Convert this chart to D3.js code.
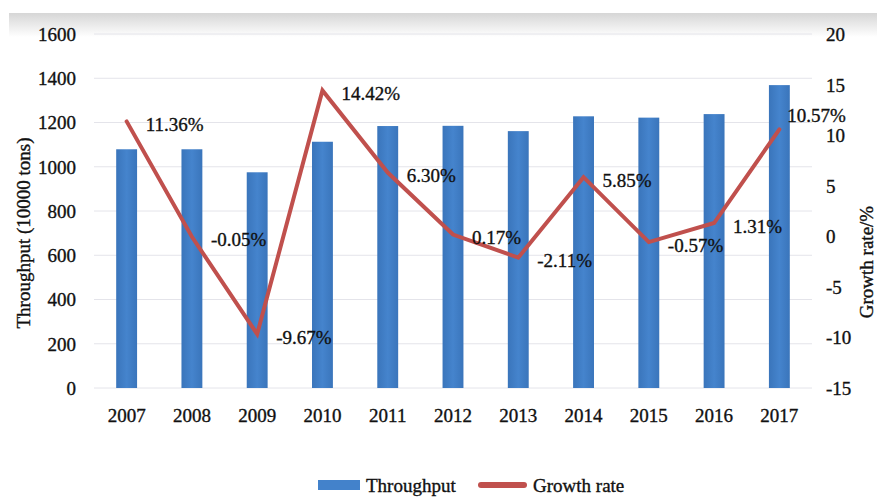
<!DOCTYPE html>
<html>
<head>
<meta charset="utf-8">
<script src="https://cdn.jsdelivr.net/npm/d3@7/dist/d3.min.js"></script>
<style>
  html, body { margin: 0; padding: 0; background: #ffffff; }
  svg { display: block; }
  text { font-family: "Liberation Serif", "DejaVu Serif", serif; fill: #111; stroke: #111; stroke-width: 0.35px; }
</style>
</head>
<body>
<svg id="chart" width="877" height="501"></svg>
<script>
const years = ["2007","2008","2009","2010","2011","2012","2013","2014","2015","2016","2017"];
const throughput = [1079, 1079, 975, 1113, 1184, 1185, 1161, 1228, 1222, 1238, 1369];
const growthRate = [11.36, -0.05, -9.67, 14.42, 6.30, 0.17, -2.11, 5.85, -0.57, 1.31, 10.57];
const growthLabels = ["11.36%","-0.05%","-9.67%","14.42%","6.30%","0.17%","-2.11%","5.85%","-0.57%","1.31%","10.57%"];
const leftTicks = [0, 200, 400, 600, 800, 1000, 1200, 1400, 1600];
const rightTicks = [-15, -10, -5, 0, 5, 10, 15, 20];
const seriesNames = ["Throughput", "Growth rate"];

const svg = d3.select("#chart");
const W = 877, H = 501;
const plot = { left: 94, right: 812, top: 34, bottom: 388 };
const FONT = "Liberation Serif, serif";

const defs = svg.append("defs");
const bg = defs.append("linearGradient").attr("id", "bgGrad").attr("x1", 0).attr("y1", 0).attr("x2", 0).attr("y2", 1);
bg.append("stop").attr("offset", "0%").attr("stop-color", "#d6d6d6");
bg.append("stop").attr("offset", "100%").attr("stop-color", "#ffffff");
svg.append("rect").attr("x", 0).attr("y", 0).attr("width", W).attr("height", H).attr("fill", "#ffffff");
svg.append("rect").attr("x", 9).attr("y", 13).attr("width", W - 9).attr("height", 24).attr("fill", "url(#bgGrad)");

const barGradH = defs.append("linearGradient").attr("id", "barGradH").attr("x1", 0).attr("y1", 0).attr("x2", 1).attr("y2", 0);
barGradH.append("stop").attr("offset", "0%").attr("stop-color", "#3a75bb");
barGradH.append("stop").attr("offset", "50%").attr("stop-color", "#4584cd");
barGradH.append("stop").attr("offset", "100%").attr("stop-color", "#3a75bb");

const x = d3.scaleBand().domain(years).range([plot.left, plot.right]).paddingInner(0.68).paddingOuter(0.34);
const yL = d3.scaleLinear().domain([0, 1600]).range([plot.bottom, plot.top]);
const yR = d3.scaleLinear().domain([-15, 20]).range([plot.bottom, plot.top]);

// gridlines
svg.append("g").selectAll("line").data(leftTicks).join("line")
  .attr("x1", plot.left).attr("x2", plot.right)
  .attr("y1", d => yL(d)).attr("y2", d => yL(d))
  .attr("stroke", "#e4e4ea").attr("stroke-width", 1);

// left axis
const axL = svg.append("g").attr("transform", `translate(${plot.left - 18},0)`)
  .call(d3.axisLeft(yL).tickValues(leftTicks).tickSize(0).tickPadding(0).tickFormat(d => String(d)));
axL.attr("font-family", FONT);
axL.select(".domain").remove();
axL.selectAll("text").attr("font-size", 19).attr("fill", "#111").attr("dy", "0.34em");

// right axis
const axR = svg.append("g").attr("transform", `translate(${plot.right + 14},0)`)
  .call(d3.axisRight(yR).tickValues(rightTicks).tickSize(0).tickPadding(0).tickFormat(d => String(d)));
axR.attr("font-family", FONT);
axR.select(".domain").remove();
axR.selectAll("text").attr("font-size", 19).attr("fill", "#111").attr("dy", "0.34em");

// bottom axis
const axB = svg.append("g").attr("transform", `translate(0,${plot.bottom + 20})`)
  .call(d3.axisBottom(x).tickSize(0).tickPadding(0));
axB.attr("font-family", FONT);
axB.select(".domain").remove();
axB.selectAll("text").attr("font-size", 19).attr("fill", "#111").attr("dy", "0.75em");

// axis titles
svg.append("text").attr("transform", `translate(23,${(plot.top + plot.bottom) / 2 + 22}) rotate(-90)`)
  .attr("text-anchor", "middle").attr("dy", "0.35em").attr("font-size", 19).text("Throughput (10000 tons)");
svg.append("text").attr("transform", `translate(866,262) rotate(-90)`)
  .attr("text-anchor", "middle").attr("dy", "0.35em").attr("font-size", 19).text("Growth rate/%");

// bars
svg.append("g").selectAll("rect").data(years).join("rect")
  .attr("x", d => x(d)).attr("width", x.bandwidth())
  .attr("y", (d, i) => yL(throughput[i]))
  .attr("height", (d, i) => yL(0) - yL(throughput[i]))
  .attr("fill", "url(#barGradH)");

// line
const line = d3.line().x((d, i) => x(years[i]) + x.bandwidth() / 2).y(d => yR(d));
svg.append("path").datum(growthRate).attr("d", line)
  .attr("fill", "none").attr("stroke", "#c0504d").attr("stroke-width", 4)
  .attr("stroke-linejoin", "miter").attr("stroke-linecap", "round");

// labels
svg.append("g").selectAll("text").data(growthRate).join("text")
  .attr("x", (d, i) => x(years[i]) + x.bandwidth() / 2 + (i === years.length - 1 ? 8 : 19))
  .attr("y", (d, i) => yR(d) + (i === years.length - 1 ? -14 : 3))
  .attr("dy", "0.35em").attr("font-size", 19)
  .text((d, i) => growthLabels[i]);

// legend
const lg = svg.append("g");
lg.append("rect").attr("x", 318).attr("y", 480).attr("width", 42).attr("height", 10).attr("fill", "#4382cb");
lg.append("text").attr("x", 366).attr("y", 485).attr("dy", "0.35em").attr("font-size", 19).text(seriesNames[0]);
lg.append("line").attr("x1", 481).attr("x2", 524).attr("y1", 485).attr("y2", 485)
  .attr("stroke", "#c0504d").attr("stroke-width", 6).attr("stroke-linecap", "round");
lg.append("text").attr("x", 533).attr("y", 485).attr("dy", "0.35em").attr("font-size", 19).text(seriesNames[1]);
</script>
</body>
</html>
